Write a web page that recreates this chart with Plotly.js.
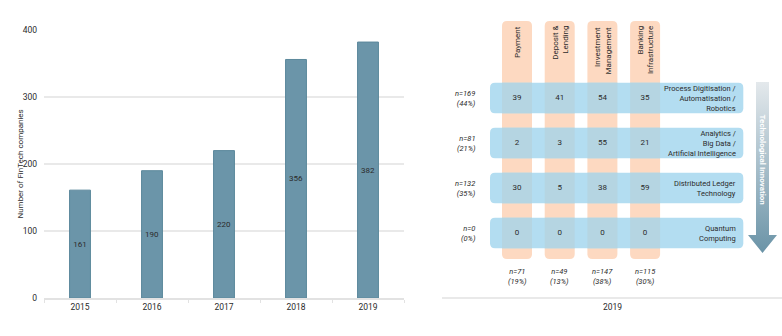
<!DOCTYPE html>
<html>
<head>
<meta charset="utf-8">
<script src="https://cdn.plot.ly/plotly-3.0.1.min.js"></script>
<style>html,body{margin:0;padding:0;background:#fff;}#chart{width:782px;height:336px;}</style>
</head>
<body>
<div id="chart"></div>
<script>
// ---------- data ----------
const years = ['2015', '2016', '2017', '2018', '2019'];
const companies = [161, 190, 220, 356, 382];

const segments = ['Payment', 'Deposit &<br>Lending', 'Investment<br>Management', 'Banking<br>Infrastructure'];
const technologies = ['Process Digitisation /<br>Automatisation /<br>Robotics',
  'Analytics /<br>Big Data /<br>Artificial Intelligence',
  'Distributed Ledger<br>Technology',
  'Quantum<br>Computing'];
const matrix = [
  [39, 41, 54, 35],
  [2, 3, 55, 21],
  [30, 5, 38, 59],
  [0, 0, 0, 0]
];
const techN = [169, 81, 132, 0];
const techPct = [44, 21, 35, 0];
const segN = [71, 49, 147, 115];
const segPct = [19, 13, 38, 30];
const matrixYear = '2019';
const arrowLabel = 'Technological Innovation';
const yTitle = 'Number of FinTech companies';

// ---------- styling / layout helpers ----------
const W = 782, H = 336;
const FONT = 'Roboto, "Open Sans", sans-serif';
const TXT = '#2b2b2b';
const ORANGE = '#fdd9c1', BLUE = '#b3ddf1', OVER = '#b5d5e2';
// right-panel scale: column step and row step in pixels
const X0PX = 517, XSTEP = 42.7, Y0PX = 98, YSTEP = 45;
const dom2 = [0.56, 1];
const x2range = [(W * dom2[0] - X0PX) / XSTEP, (W * dom2[1] - X0PX) / XSTEP];
const y2range = [(H - Y0PX) / YSTEP, (0 - Y0PX) / YSTEP];

function roundRect(x0, x1, y0, y1, rx, ry) {
  return `M${x0 + rx},${y0} L${x1 - rx},${y0} Q${x1},${y0} ${x1},${y0 + ry} ` +
    `L${x1},${y1 - ry} Q${x1},${y1} ${x1 - rx},${y1} L${x0 + rx},${y1} ` +
    `Q${x0},${y1} ${x0},${y1 - ry} L${x0},${y0 + ry} Q${x0},${y0} ${x0 + rx},${y0} Z`;
}
const rx = 5 / XSTEP, ry = 5 / YSTEP;
const colHalf = 15 / XSTEP, rowHalf = 15.3 / YSTEP;
const colTop = (21 - Y0PX) / YSTEP, colBot = (259 - Y0PX) / YSTEP;
const rowLeft = (490 - X0PX) / XSTEP, rowRight = (743.3 - X0PX) / XSTEP;

const shapes = [];
segments.forEach((s, c) => {
  shapes.push({type: 'path', xref: 'x2', yref: 'y2', layer: 'below',
    path: roundRect(c - colHalf, c + colHalf, colTop, colBot, rx, ry),
    fillcolor: ORANGE, line: {width: 0}});
});
technologies.forEach((t, r) => {
  shapes.push({type: 'path', xref: 'x2', yref: 'y2', layer: 'below',
    path: roundRect(rowLeft, rowRight, r - rowHalf, r + rowHalf, rx, ry),
    fillcolor: BLUE, line: {width: 0}});
  segments.forEach((s, c) => {
    shapes.push({type: 'rect', xref: 'x2', yref: 'y2', layer: 'below',
      x0: c - colHalf, x1: c + colHalf, y0: r - rowHalf, y1: r + rowHalf,
      fillcolor: OVER, line: {width: 0}});
  });
});
// bottom separator line of the right panel
const sepY = (298 - Y0PX) / YSTEP;
shapes.push({type: 'line', xref: 'x2', yref: 'y2', x0: (442 - X0PX) / XSTEP, x1: x2range[1],
  y0: sepY, y1: sepY, line: {color: '#e2e2e2', width: 1.5}});

// ---------- traces ----------
const barTrace = {
  type: 'bar', x: years, y: companies, text: companies.map(String),
  textposition: 'inside', insidetextanchor: 'middle',
  insidetextfont: {family: FONT, size: 8, color: TXT},
  marker: {color: '#6b95a9', line: {color: '#5c889c', width: 1}},
  width: 0.29, xaxis: 'x', yaxis: 'y', hoverinfo: 'skip', cliponaxis: false
};

const cellX = [], cellY = [], cellT = [];
matrix.forEach((row, r) => row.forEach((v, c) => { cellX.push(c); cellY.push(r); cellT.push(String(v)); }));
const cellTrace = {
  type: 'scatter', mode: 'text', x: cellX, y: cellY, text: cellT,
  textfont: {family: FONT, size: 8, color: TXT}, xaxis: 'x2', yaxis: 'y2', hoverinfo: 'skip'
};

// arrow (gradient filled polygon)
const aTop = (82 - Y0PX) / YSTEP, aBase = (235 - Y0PX) / YSTEP, aTip = (253 - Y0PX) / YSTEP;
const bx0 = (756 - X0PX) / XSTEP, bx1 = (769 - X0PX) / XSTEP;
const hx0 = (748 - X0PX) / XSTEP, hx1 = (777 - X0PX) / XSTEP, hxc = (bx0 + bx1) / 2;
const arrowTrace = {
  type: 'scatter', mode: 'lines', xaxis: 'x2', yaxis: 'y2', hoverinfo: 'skip',
  x: [bx0, bx1, bx1, hx1, hxc, hx0, bx0, bx0],
  y: [aTop, aTop, aBase, aBase, aTip, aBase, aBase, aTop],
  fill: 'toself', line: {width: 0, color: 'rgba(0,0,0,0)'},
  fillgradient: {type: 'vertical', start: aTop, stop: aTip,
    colorscale: [[0, '#e4e9ec'], [1, '#6a93a7']]}
};

// ---------- annotations ----------
const ann = [];
ann.push({xref: 'paper', yref: 'paper', x: 13 / W, y: 1 - 164 / H, text: yTitle, showarrow: false,
  textangle: -90, font: {family: FONT, size: 8, color: TXT}});
segments.forEach((s, c) => {
  ann.push({xref: 'x2', yref: 'y2', x: c, y: (24 - Y0PX) / YSTEP, yanchor: 'top', xanchor: 'center',
    text: s, textangle: -90, align: 'right', showarrow: false,
    font: {family: FONT, size: 8, color: TXT}});
  ann.push({xref: 'x2', yref: 'y2', x: c, y: (276 - Y0PX) / YSTEP, xanchor: 'center', yanchor: 'middle',
    text: `n=${segN[c]}<br>(${segPct[c]}%)`, showarrow: false, align: 'center',
    font: {family: FONT, size: 7.5, color: TXT, style: 'italic'}});
});
technologies.forEach((t, r) => {
  ann.push({xref: 'x2', yref: 'y2', x: (738 - X0PX) / XSTEP, y: r, xanchor: 'right', yanchor: 'middle',
    text: t, align: 'right', showarrow: false, font: {family: FONT, size: 7.5, color: TXT}});
  ann.push({xref: 'x2', yref: 'y2', x: (478 - X0PX) / XSTEP, y: r, xanchor: 'right', yanchor: 'middle',
    text: `n=${techN[r]}<br>(${techPct[r]}%)`, align: 'right', showarrow: false,
    font: {family: FONT, size: 7.5, color: TXT, style: 'italic'}});
});
ann.push({xref: 'x2', yref: 'y2', x: hxc, y: (160 - Y0PX) / YSTEP, text: '<b>' + arrowLabel + '</b>',
  textangle: 90, showarrow: false, font: {family: FONT, size: 8, color: '#ffffff'}});
ann.push({xref: 'x2', yref: 'y2', x: (612 - X0PX) / XSTEP, y: (307 - Y0PX) / YSTEP, text: matrixYear,
  showarrow: false, font: {family: FONT, size: 8.5, color: TXT}});

// ---------- layout ----------
const layout = {
  width: W, height: H, margin: {l: 0, r: 0, t: 0, b: 0},
  paper_bgcolor: '#ffffff', plot_bgcolor: 'rgba(0,0,0,0)', showlegend: false,
  font: {family: FONT, size: 8.5, color: TXT},
  xaxis: {domain: [44 / W, 404 / W], anchor: 'y', type: 'category', tickson: 'boundaries',
    ticks: 'outside', ticklen: 3, tickcolor: '#e2e2e2', showline: true, linecolor: '#e2e2e2',
    linewidth: 2, showgrid: false, tickfont: {family: FONT, size: 8.5, color: TXT}, fixedrange: true},
  yaxis: {domain: [1 - 298 / H, 1 - 30 / H], anchor: 'x', range: [0, 400], dtick: 100,
    showgrid: true, gridcolor: '#e9e9e9', gridwidth: 1.5, zeroline: false, ticks: '',
    ticklabelstandoff: 6, tickfont: {family: FONT, size: 8.5, color: TXT}, fixedrange: true},
  xaxis2: {domain: dom2, anchor: 'y2', range: x2range, visible: false, fixedrange: true},
  yaxis2: {domain: [0, 1], anchor: 'x2', range: y2range, visible: false, fixedrange: true},
  shapes: shapes, annotations: ann
};

Plotly.newPlot('chart', [barTrace, arrowTrace, cellTrace], layout, {staticPlot: true, displayModeBar: false});
</script>
</body>
</html>
